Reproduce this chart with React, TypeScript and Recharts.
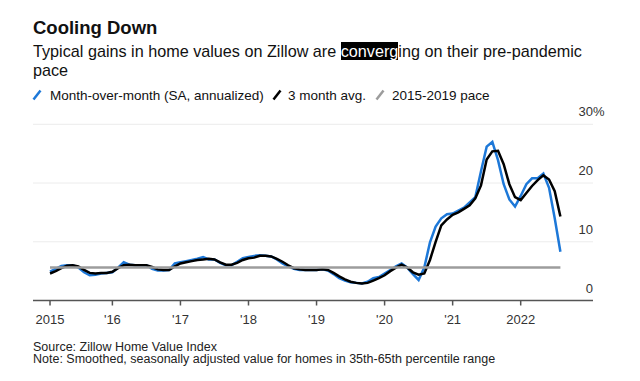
import { CartesianGrid, Line, LineChart, XAxis, YAxis } from 'recharts';

// monthly values, Feb 2015 .. Aug 2022 (month index 1..91, 0 = Jan 2015)
const MOM = [
  4.9, 5.4, 5.9, 6.0, 6.0, 5.6, 4.8, 4.3, 4.4, 4.6,
  4.7, 4.8, 5.6, 6.5, 6.1, 6.0, 6.0, 6.0, 5.4, 5.1,
  5.1, 5.2, 6.3, 6.5, 6.7, 6.9, 7.1, 7.4, 7.0, 7.0,
  6.4, 6.0, 6.0, 6.6, 7.2, 7.4, 7.6, 7.7, 7.6, 7.5,
  7.0, 6.3, 5.8, 5.4, 5.2, 5.2, 5.2, 5.2, 5.3, 5.1,
  4.5, 3.8, 3.4, 3.1, 3.0, 2.9, 3.2, 3.8, 4.0, 4.6,
  5.2, 5.8, 6.3, 5.6, 4.5, 3.5, 5.6, 9.9, 12.6, 14.0,
  14.7, 14.8, 15.3, 15.8, 16.7, 17.6, 22.0, 26.2, 27.0, 23.9,
  19.8, 17.2, 16.0, 17.8, 19.8, 20.8, 20.8, 21.6, 19.2, 14.0, 8.3,
];

const AVG = [
  4.6, 5.0, 5.5, 5.9, 6.0, 5.8, 5.2, 4.7, 4.6, 4.7,
  4.7, 4.9, 5.5, 6.0, 6.1, 6.0, 6.0, 6.0, 5.7, 5.3,
  5.2, 5.2, 5.8, 6.3, 6.5, 6.7, 6.9, 7.0, 7.1, 7.0,
  6.5, 6.1, 6.1, 6.4, 6.9, 7.2, 7.3, 7.6, 7.6, 7.5,
  7.1, 6.6, 6.0, 5.5, 5.3, 5.2, 5.2, 5.2, 5.3, 5.2,
  4.7, 4.1, 3.6, 3.2, 3.0, 2.9, 3.0, 3.4, 3.8, 4.3,
  5.0, 5.6, 6.1, 5.6, 4.8, 4.4, 4.6, 6.9, 10.0, 12.8,
  13.8, 14.6, 15.0, 15.6, 16.2, 17.4, 19.6, 24.0, 25.4, 25.5,
  23.2, 19.8, 17.6, 17.1, 18.3, 19.5, 20.5, 21.3, 20.6, 18.6, 14.3,
];

const PACE = 5.6;

const X_TICKS = [1, 12, 24, 36, 48, 60, 72, 84];
const X_LABELS = ['2015', "'16", "'17", "'18", "'19", "'20", "'21", '2022'];
const Y_TICKS = [0, 10, 20, 30];

const BLUE = '#1d78d8';
const GRAY = '#9c9c9c';
const FONT = '"Liberation Sans", Arial, sans-serif';

const data = MOM.map((v, i) => ({ t: i + 1, mom: v, avg: AVG[i], pace: PACE }));

const YTick = ({ x, y, payload }: any) => (
  <g>
    <text x={x} y={y - 8} textAnchor="end" fill="#333" fontSize={13} fontFamily={FONT}>
      {payload.value}
    </text>
    {payload.value === 30 && (
      <text x={x} y={y - 8} textAnchor="start" fill="#333" fontSize={13} fontFamily={FONT}>
        %
      </text>
    )}
  </g>
);

const Slash = ({ color, left }: { color: string; left: number }) => (
  <svg style={{ position: 'absolute', left, top: 89 }} width={10} height={12}>
    <line x1={1.5} y1={10.5} x2={8.5} y2={1.5} stroke={color} strokeWidth={2.5} />
  </svg>
);

const abs = (left: number, top: number, extra: any = {}) => ({
  position: 'absolute' as const,
  left,
  top,
  whiteSpace: 'nowrap' as const,
  ...extra,
});

export default function App() {
  return (
    <div
      style={{
        position: 'fixed',
        left: 0,
        top: 0,
        width: 640,
        height: 381,
        background: '#fff',
        fontFamily: FONT,
        color: '#111',
      }}
    >
      <LineChart
        width={640}
        height={381}
        data={data}
        margin={{ top: 124.3, right: 27, bottom: 50.5, left: 33 }}
      >
        <CartesianGrid vertical={false} stroke="#ececec" strokeWidth={1} />
        <XAxis
          dataKey="t"
          type="number"
          domain={[-2, 96.75]}
          ticks={X_TICKS}
          tickFormatter={(v: number) => X_LABELS[X_TICKS.indexOf(v)]}
          height={30}
          interval={0}
          stroke="#555"
          strokeWidth={1.5}
          tickSize={5}
          tickMargin={9}
          tick={{ fill: '#333', fontSize: 13, fontFamily: FONT }}
        />
        <YAxis
          orientation="right"
          domain={[0, 30]}
          ticks={Y_TICKS}
          width={20}
          axisLine={false}
          tickLine={false}
          tickSize={0}
          tickMargin={0}
          tick={<YTick />}
        />
        <Line dataKey="mom" stroke={BLUE} strokeWidth={2.5} dot={false} isAnimationActive={false} />
        <Line dataKey="avg" stroke="#000" strokeWidth={2.5} dot={false} isAnimationActive={false} />
        <Line dataKey="pace" stroke={GRAY} strokeWidth={2.5} dot={false} isAnimationActive={false} />
      </LineChart>

      <div style={abs(33, 19.3, { fontSize: 18.5, fontWeight: 'bold', lineHeight: 1 })}>
        Cooling Down
      </div>
      <div style={abs(33, 41.9, { fontSize: 16.2, lineHeight: '19px' })}>
        Typical gains in home values on Zillow are{' '}
        <span style={{ background: '#000', color: '#fff' }}>converg</span>ing on their pre-pandemic
        <br />
        pace
      </div>

      <Slash color={BLUE} left={32} />
      <div style={abs(50, 88.6, { fontSize: 13.5, lineHeight: 1 })}>Month-over-month (SA, annualized)</div>
      <Slash color="#000" left={272} />
      <div style={abs(288, 88.6, { fontSize: 13.5, lineHeight: 1 })}>3 month avg.</div>
      <Slash color={GRAY} left={375} />
      <div style={abs(392, 88.6, { fontSize: 13.5, lineHeight: 1 })}>2015-2019 pace</div>

      <div style={abs(33, 340.5, { fontSize: 12.5, lineHeight: 1, color: '#222' })}>
        Source: Zillow Home Value Index
      </div>
      <div style={abs(33, 353, { fontSize: 12.5, lineHeight: 1, color: '#222' })}>
        Note: Smoothed, seasonally adjusted value for homes in 35th-65th percentile range
      </div>
    </div>
  );
}
